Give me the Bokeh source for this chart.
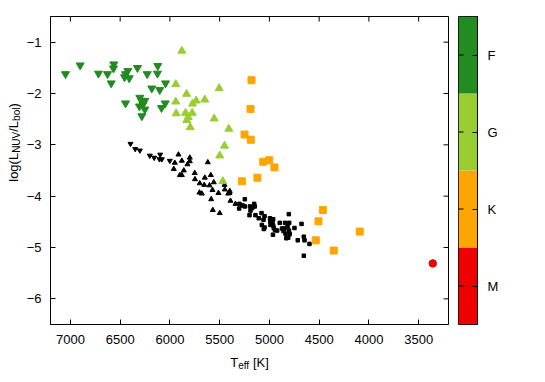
import math
from bokeh.plotting import figure
from bokeh.models import Range1d, FixedTicker, Label
from bokeh.layouts import row, column
from bokeh.embed import file_html
from bokeh.resources import INLINE

FONT = "Liberation Sans"

# ---- data ----
spectral_types = ["M", "K", "G", "F"]
type_colors = ["#ee0000", "#ffa500", "#9acd32", "#228b22"]

f_teff = [7049, 6902, 6718, 6627, 6590, 6564, 6567, 6423, 6446, 6456, 6409, 6326, 6228, 6122,
          6125, 6044, 6182, 6102, 6446, 6302, 6285, 6252, 6272, 6306, 6252, 6282, 6047, 6084]
f_logl = [-1.62, -1.45, -1.61, -1.62, -1.80, -1.43, -1.51, -1.56, -1.62, -1.68, -1.70, -1.50, -1.62, -1.46,
          -1.61, -1.80, -1.90, -1.93, -2.19, -2.08, -2.14, -2.14, -2.22, -2.25, -2.31, -2.44, -2.19, -2.28]

g_teff = [5880, 5941, 5833, 5505, 5941, 5736, 5773, 5649, 5937, 5843, 5776, 5816, 5830, 5555,
          5796, 5408, 5451, 5499, 5468]
g_logl = [-1.17, -1.82, -2.01, -1.90, -2.16, -2.14, -2.20, -2.12, -2.39, -2.38, -2.38, -2.46, -2.52, -2.49,
          -2.66, -2.69, -3.02, -3.21, -3.71]

k_teff = [5180, 5190, 5250, 5187, 5062, 5002, 4949, 5120, 5277, 4463, 4507, 4092, 4534, 4353]
k_logl = [-1.74, -2.30, -2.80, -2.90, -3.33, -3.30, -3.44, -3.64, -3.71, -4.27, -4.49, -4.69, -4.86, -5.06]

m_teff = [3358]
m_logl = [-5.31]

blk_dn_teff = [6396, 6349, 6302, 6202, 6158, 6105, 6081, 6098, 6001]
blk_dn_logl = [-2.98, -3.08, -3.11, -3.21, -3.25, -3.28, -3.28, -3.19, -3.31]

blk_up_teff = [5914, 5951, 5880, 5800, 5800, 5823, 5619, 5961, 5860, 5900, 5880, 5750, 5748, 5649,
               5589, 5700, 5655, 5602, 5559, 5572, 5703, 5679, 5512, 5448, 5398, 5401, 5414, 5585,
               5391, 5569, 5499, 5341, 5451]
blk_up_logl = [-3.19, -3.35, -3.31, -3.25, -3.32, -3.38, -3.34, -3.47, -3.50, -3.59, -3.59, -3.55, -3.67, -3.64,
               -3.59, -3.75, -3.78, -3.79, -3.73, -3.88, -3.93, -3.95, -3.94, -3.87, -3.90, -3.94, -3.95, -4.06,
               -4.09, -4.27, -4.33, -4.15, -3.78]

blk_sq_teff = [5247, 5301, 5270, 5247, 5304, 5195, 5153, 5147, 5173, 5190, 5200, 5140, 5079, 5049, 5107,
               5059, 4994, 4982, 4962, 4969, 4992, 4989, 4805, 4896, 4843, 4801, 4677, 5076, 5049, 5056,
               4962, 4956, 4944, 4922, 4873, 4848, 4858, 4818, 4803, 4795, 4811, 4830, 4748, 4964, 4715,
               4654, 4647, 4597, 4654, 4838]
blk_sq_logl = [-4.06, -4.15, -4.18, -4.20, -4.24, -4.20, -4.15, -4.20, -4.23, -4.28, -4.37, -4.37, -4.33, -4.39, -4.43,
               -4.46, -4.43, -4.46, -4.45, -4.50, -4.49, -4.56, -4.35, -4.52, -4.52, -4.52, -4.54, -4.56, -4.61, -4.64,
               -4.57, -4.62, -4.66, -4.67, -4.63, -4.63, -4.68, -4.59, -4.67, -4.74, -4.81, -4.82, -4.62, -4.75, -4.86,
               -4.79, -4.86, -4.93, -5.16, -4.73]

x_ticks = [7000, 6500, 6000, 5500, 5000, 4500, 4000, 3500]
y_ticks = [-6, -5, -4, -3, -2, -1]
y_tick_labels = ["\u22126", "\u22125", "\u22124", "\u22123", "\u22122", "\u22121"]
x_range_limits = (7200, 3200)
y_range_limits = (-6.5, -0.5)

# Arial / Liberation Sans advance widths (per 1000 em) for label layout
ADV = {'l': 222, 'o': 556, 'g': 556, '(': 333, 'L': 556, 'N': 722, 'U': 722, 'V': 667, '/': 278,
       'b': 556, ')': 333, 'T': 611, 'e': 556, 'f': 278, ' ': 278, '[': 278, 'K': 667, ']': 278}


def text_w(s, size):
    return sum(ADV.get(c, 556) for c in s) / 1000.0 * size


def blank_fig(w, h):
    f = figure(width=w, height=h, x_range=Range1d(0, 1), y_range=Range1d(0, 1),
               output_backend="svg", toolbar_location=None,
               x_axis_location=None, y_axis_location=None, min_border=0)
    f.min_border_left = f.min_border_right = f.min_border_top = f.min_border_bottom = 0
    f.grid.visible = False
    f.outline_line_color = None
    f.background_fill_color = "white"
    f.border_fill_color = "white"
    return f


def add_piece(fig, text, x, y, size, angle=0.0):
    fig.add_layout(Label(x=x, y=y, x_units="screen", y_units="screen", text=text, angle=angle,
                         text_font=FONT, text_font_size=f"{size}px", text_color="black",
                         text_baseline="alphabetic", text_align="left"))


MAIN, SUB, SHIFT = 13, 10, 3
FIG_H = 352
YL_W = 22
MAIN_W = 431
CB_W = 60

# ---- main figure ----
p = figure(width=MAIN_W, height=FIG_H,
           x_range=Range1d(*x_range_limits), y_range=Range1d(*y_range_limits),
           output_backend="svg", toolbar_location=None,
           min_border_left=28, min_border_right=5, min_border_top=16, min_border_bottom=28)
p.background_fill_color = "white"
p.border_fill_color = "white"
p.xgrid.visible = False
p.ygrid.visible = False
p.outline_line_color = "black"
p.outline_line_alpha = 1
p.outline_line_width = 1

for ax in (p.xaxis[0], p.yaxis[0]):
    ax.major_tick_in = 5
    ax.major_tick_out = 0
    ax.minor_tick_line_color = None
    ax.axis_line_color = "black"
    ax.major_tick_line_color = "black"
    ax.major_label_text_font = FONT
    ax.major_label_text_font_size = "13px"
    ax.major_label_text_color = "black"
p.xaxis.ticker = FixedTicker(ticks=x_ticks)
p.xaxis.major_label_overrides = {t: str(t) for t in x_ticks}
p.xaxis.major_label_standoff = 10
p.yaxis.ticker = FixedTicker(ticks=y_ticks)
p.yaxis.major_label_overrides = dict(zip(y_ticks, y_tick_labels))
p.yaxis.major_label_standoff = 9

# mirror ticks on top and right edges (inside the frame)
p.scatter(x=x_ticks, y=[p.y_range.end] * len(x_ticks), marker="dash", angle=math.pi / 2,
          size=10, line_color="black", line_width=1)
p.scatter(x=[p.x_range.end] * len(y_ticks), y=y_ticks, marker="dash",
          size=10, line_color="black", line_width=1)

# comparison sample (black)
p.scatter(blk_sq_teff, blk_sq_logl, marker="square", size=3.5, color="black")
p.scatter(blk_up_teff, blk_up_logl, marker="triangle", size=5, color="black")
p.scatter(blk_dn_teff, blk_dn_logl, marker="inverted_triangle", size=5, color="black")

# coloured sample by spectral type
p.scatter(f_teff, f_logl, marker="inverted_triangle", size=8, color=type_colors[3])
p.scatter(g_teff, g_logl, marker="triangle", size=8, color=type_colors[2])
p.scatter(k_teff, k_logl, marker="square", size=7, color=type_colors[1])
p.scatter(m_teff, m_logl, marker="circle", size=7.5, color=type_colors[0])

# ---- y axis label strip: log(L_NUV/L_bol) ----
yl = blank_fig(YL_W, FIG_H)
ylabel = [("log(L", MAIN, 0), ("NUV", SUB, SHIFT), ("/L", MAIN, 0), ("bol", SUB, SHIFT), (")", MAIN, 0)]
total = sum(text_w(t, s) for t, s, _ in ylabel)
pos = (FIG_H - 170) - total / 2
for t, s, sh in ylabel:
    add_piece(yl, t, 12.5 + sh, pos, s, angle=math.pi / 2)
    pos += text_w(t, s)

# ---- colour bar ----
n_types = len(spectral_types)
cb_ticks = [i + 0.5 for i in range(n_types)]
cb = figure(width=CB_W, height=FIG_H, x_range=Range1d(0, 1), y_range=Range1d(0, n_types),
            output_backend="svg", toolbar_location=None,
            x_axis_location=None, y_axis_location="right",
            min_border_left=5, min_border_right=36, min_border_top=16, min_border_bottom=28)
cb.background_fill_color = "white"
cb.border_fill_color = "white"
cb.grid.visible = False
cb.outline_line_color = "black"
cb.outline_line_alpha = 1
cb.quad(left=0, right=1, bottom=list(range(n_types)), top=[i + 1 for i in range(n_types)],
        fill_color=type_colors, line_color=None)
ay = cb.yaxis[0]
ay.ticker = FixedTicker(ticks=cb_ticks)
ay.major_label_overrides = dict(zip(cb_ticks, spectral_types))
ay.major_tick_in = 5
ay.major_tick_out = 0
ay.minor_tick_line_color = None
ay.axis_line_color = "black"
ay.major_tick_line_color = "black"
ay.major_label_standoff = 10
ay.major_label_text_font = FONT
ay.major_label_text_font_size = "13px"
ay.major_label_text_color = "black"
cb.scatter(x=[cb.x_range.start] * n_types, y=cb_ticks, marker="dash", size=10,
           line_color="black", line_width=1)

# ---- x axis label strip: T_eff [K] ----
XL_H = 22
xl = blank_fig(YL_W + MAIN_W + CB_W, XL_H)
gap = text_w(" ", MAIN)
xlabel = [("T", MAIN, 0, 0.0), ("eff", SUB, SHIFT, 0.0), ("[K]", MAIN, 0, gap)]
total = sum(text_w(t, s) + g for t, s, _, g in xlabel)
pos = 249 - total / 2
for t, s, sh, g in xlabel:
    pos += g
    add_piece(xl, t, pos, 12 - sh, s)
    pos += text_w(t, s)

layout = column(row(yl, p, cb), xl)
open("out.html", "w").write(file_html(layout, INLINE))
